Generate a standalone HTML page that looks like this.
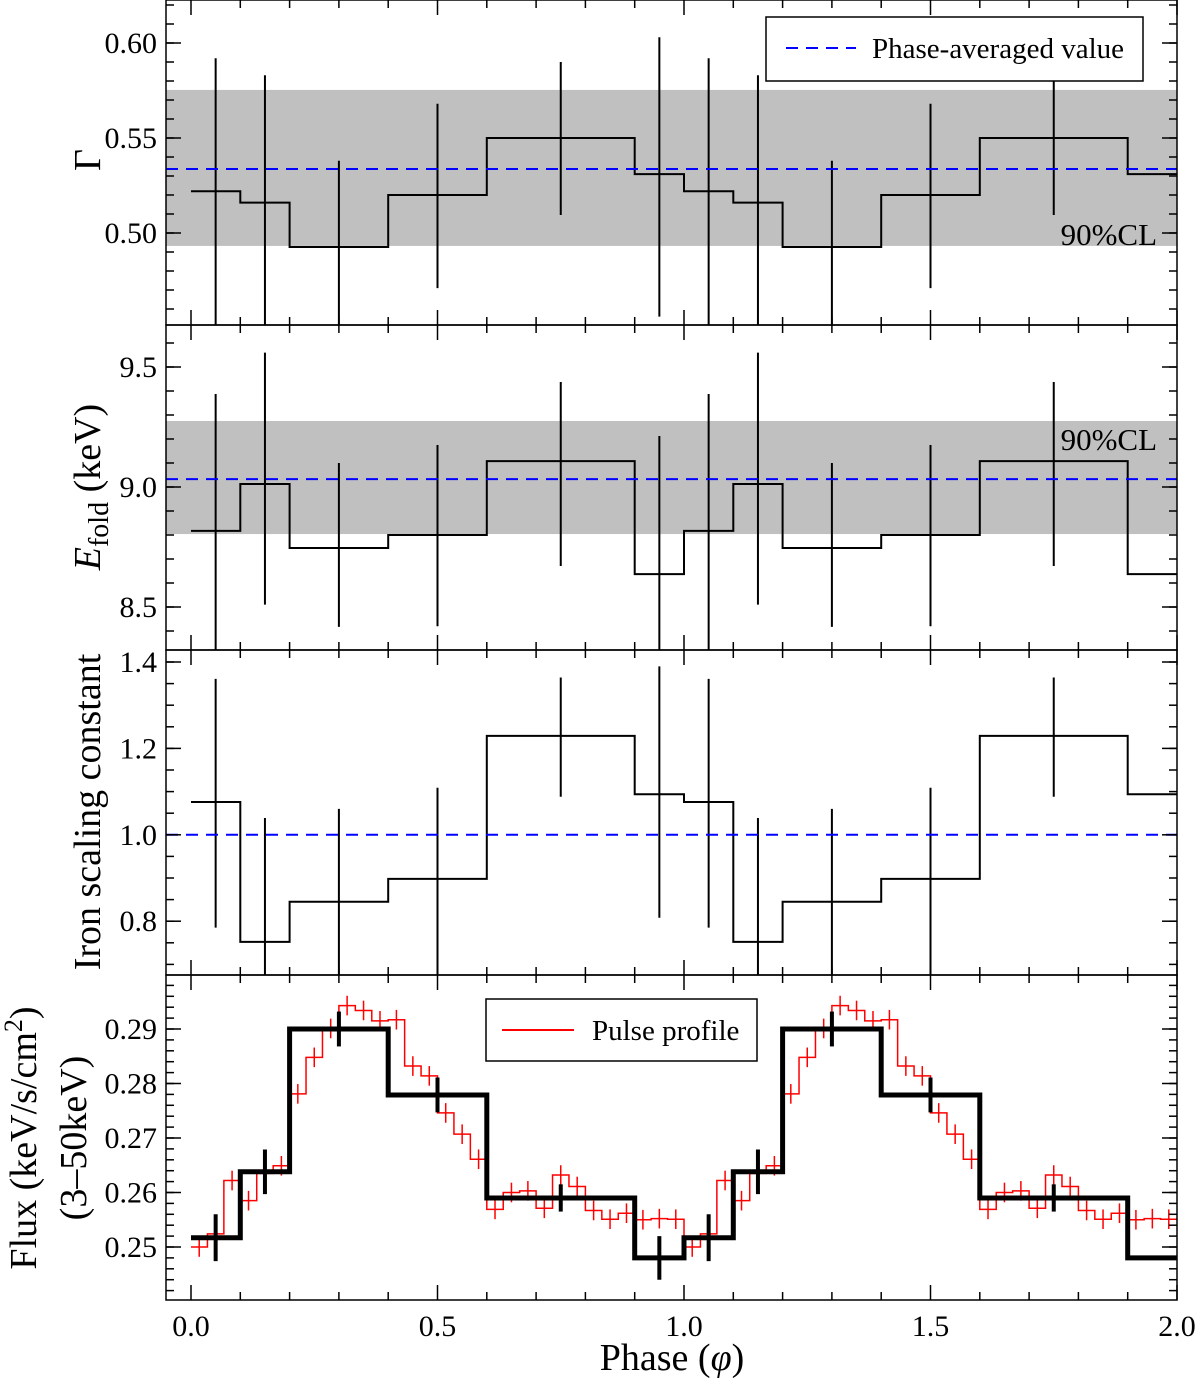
<!DOCTYPE html>
<html><head><meta charset="utf-8"><style>
body{margin:0;background:#fff}
svg{display:block;font-family:"Liberation Serif",serif}
text{font-family:"Liberation Serif",serif}
</style></head><body>
<svg id="chart" width="1200" height="1382" viewBox="0 0 1200 1382" xmlns="http://www.w3.org/2000/svg"></svg>
<script>
// ---- data ----
const binEdges = [0, 0.1, 0.2, 0.4, 0.6, 0.9, 1.0];
const binCenters = [0.05, 0.15, 0.3, 0.5, 0.75, 0.95];
const gammaVals = [0.522, 0.516, 0.4926, 0.520, 0.550, 0.531];
const gammaHi = [0.592, 0.583, 0.538, 0.568, 0.590, 0.603];
const gammaLo = [0.44, 0.44, 0.44, 0.471, 0.5095, 0.456];
const gammaAvg = 0.5337, gammaBand = [0.4932, 0.5753];
const efoldVals = [8.817, 9.0125, 8.746, 8.80, 9.108, 8.637];
const efoldHi = [9.3875, 9.56, 9.10, 9.175, 9.4375, 9.2125];
const efoldLo = [8.2, 8.51, 8.417, 8.42, 8.671, 8.25];
const efoldAvg = 9.033, efoldBand = [8.804, 9.275];
const ironVals = [1.076, 0.752, 0.845, 0.898, 1.229, 1.094];
const ironHi = [1.361, 1.039, 1.06, 1.109, 1.364, 1.39];
const ironLo = [0.785, 0.6, 0.6, 0.6, 1.088, 0.808];
const ironAvg = 1.0;
const fluxVals = [0.2517, 0.2638, 0.2900, 0.2779, 0.2590, 0.2480];
const fluxErr = [0.0043, 0.0041, 0.0032, 0.0032, 0.0025, 0.0040];
const pulseVals = [0.2500,0.2524,0.2622,0.2585,0.2635,0.2649,0.2781,0.2848,0.2901,0.2943,
  0.2934,0.2915,0.2917,0.2832,0.2814,0.2746,0.2707,0.2661,0.2569,0.2600,
  0.2603,0.2571,0.2632,0.2611,0.2567,0.2551,0.2562,0.2550,0.2552,0.2551];
const pulseErr = 0.0018;
const xTicks = ["0.0","0.5","1.0","1.5","2.0"];

// ---- layout ----
const svg = document.getElementById('chart');
const NS = 'http://www.w3.org/2000/svg';
const L = 166, R = 1177;
const X = p => 191 + p * 493;
function el(tag, attrs, parent, text) {
  const e = document.createElementNS(NS, tag);
  for (const k in attrs) e.setAttribute(k, attrs[k]);
  if (text !== undefined) e.textContent = text;
  (parent || svg).appendChild(e);
  return e;
}
const panels = [
  {name:'gamma', top:0, bot:325, v0:0.60, y0:43, scale:1900, ticks:[0.50,0.55,0.60], dec:2, minor:0.01, vmin:0.44, vmax:0.63},
  {name:'efold', top:325, bot:650, v0:9.5, y0:367, scale:240, ticks:[8.5,9.0,9.5], dec:1, minor:0.1, vmin:8.3, vmax:9.7},
  {name:'iron', top:650, bot:975, v0:1.4, y0:662, scale:432, ticks:[0.8,1.0,1.2,1.4], dec:1, minor:0.05, vmin:0.67, vmax:1.43},
  {name:'flux', top:975, bot:1300, v0:0.29, y0:1029, scale:5450, ticks:[0.25,0.26,0.27,0.28,0.29], dec:2, minor:0.002, vmin:0.240, vmax:0.300}
];
panels.forEach(p => { p.Y = v => p.y0 + (p.v0 - v) * p.scale; });

function clip(p) {
  const id = 'clip-' + p.name;
  const c = el('clipPath', {id});
  el('rect', {x:L, y:p.top, width:R-L, height:p.bot-p.top}, c);
  return 'url(#' + id + ')';
}
function stepPath(p, vals, edges, cycles) {
  let d = '';
  for (let c = 0; c < cycles; c++) {
    vals.forEach((v, i) => {
      const x1 = X(edges[i] + c), x2 = X(edges[i+1] + c), y = p.Y(v);
      d += (d ? 'L' : 'M') + x1 + ',' + y + 'L' + x2 + ',' + y;
    });
  }
  return d;
}
function axes(p) {
  const g = el('g', {});
  
  
  el('rect', {x:L, y:p.top, width:R-L, height:p.bot-p.top, fill:'none', stroke:'#000', 'stroke-width':1.5}, g);
  for (let i = 0; i <= 20; i++) {
    const x = X(i / 10), len = i % 5 === 0 ? 15 : 8;
    el('line', {x1:x, x2:x, y1:p.bot, y2:p.bot-len, stroke:'#000', 'stroke-width':1.5}, g);
    el('line', {x1:x, x2:x, y1:p.top, y2:p.top+len, stroke:'#000', 'stroke-width':1.5}, g);
  }
  const n0 = Math.ceil(p.vmin / p.minor - 1e-6), n1 = Math.floor(p.vmax / p.minor + 1e-6);
  for (let n = n0; n <= n1; n++) {
    const y = p.Y(n * p.minor);
    if (y <= p.top + 1 || y >= p.bot - 1) continue;
    el('line', {x1:L, x2:L+8, y1:y, y2:y, stroke:'#000', 'stroke-width':1.5}, g);
    el('line', {x1:R, x2:R-8, y1:y, y2:y, stroke:'#000', 'stroke-width':1.5}, g);
  }
  p.ticks.forEach(t => {
    const y = p.Y(t);
    el('line', {x1:L, x2:L+15, y1:y, y2:y, stroke:'#000', 'stroke-width':1.5}, g);
    el('line', {x1:R, x2:R-15, y1:y, y2:y, stroke:'#000', 'stroke-width':1.5}, g);
    const tl = el('text', {x:157, y:y+10, 'text-anchor':'end', 'font-size':30, 'font-family':'Liberation Serif, serif'}, g, t.toFixed(p.dec));
    
    
  });
}
function errBars(p, centers, vals, lo, hi, cp, width, color, name, cycles, maxX) {
  const g = el('g', {'clip-path':cp});
  
  
  for (let c = 0; c < cycles; c++) centers.forEach((x, i) => {
    if (maxX !== undefined && x + c > maxX) return;
    const e = el('line', {x1:X(x+c), x2:X(x+c), y1:p.Y(lo[i]), y2:p.Y(hi[i]), stroke:color, 'stroke-width':width}, g);
    
    
  });
}
function band(p, b, cp) {
  const r = el('rect', {x:L, y:p.Y(b[1]), width:R-L, height:p.Y(b[0])-p.Y(b[1]), fill:'#c0c0c0', 'clip-path':cp});
  
  
}
function avgLine(p, v) {
  const l = el('line', {x1:L, x2:R, y1:p.Y(v), y2:p.Y(v), stroke:'#0000ff', 'stroke-width':2, 'stroke-dasharray':'12,8'});
  
  
}
function steps(p, vals, cp, w, color, name) {
  const s = el('path', {d:stepPath(p, vals, binEdges, 2), fill:'none', stroke:color, 'stroke-width':w, 'clip-path':cp});
  
  
}

let p = panels[0], cp = clip(p);
band(p, gammaBand, cp);
steps(p, gammaVals, cp, 2, '#000', 'gamma-step');
errBars(p, binCenters, gammaVals, gammaLo, gammaHi, cp, 2, '#000', 'gamma-error-bars', 2, 1.9);
avgLine(p, gammaAvg);
axes(p);
p = panels[1]; cp = clip(p);
band(p, efoldBand, cp);
steps(p, efoldVals, cp, 2, '#000', 'efold-step');
errBars(p, binCenters, efoldVals, efoldLo, efoldHi, cp, 2, '#000', 'efold-error-bars', 2, 1.9);
avgLine(p, efoldAvg);
axes(p);
p = panels[2]; cp = clip(p);
steps(p, ironVals, cp, 2, '#000', 'iron-step');
errBars(p, binCenters, ironVals, ironLo, ironHi, cp, 2, '#000', 'iron-error-bars', 2, 1.9);
avgLine(p, ironAvg);
axes(p);
p = panels[3]; cp = clip(p);
(function(){
  const n = pulseVals.length, edges = [], cen = [];
  for (let i = 0; i <= n; i++) edges.push(i / n);
  for (let i = 0; i < n; i++) cen.push((i + 0.5) / n);
  const s = el('path', {d:stepPath(p, pulseVals, edges, 2), fill:'none', stroke:'#ff0000', 'stroke-width':1.5, 'clip-path':cp});
  
  
  const lo = pulseVals.map(v => v - pulseErr), hi = pulseVals.map(v => v + pulseErr);
  errBars(p, cen, pulseVals, lo, hi, cp, 1.5, '#ff0000', 'pulse-error-bars', 2);
})();
steps(p, fluxVals, cp, 5, '#000', 'flux-step');
errBars(p, binCenters, fluxVals, fluxVals.map((v,i)=>v-fluxErr[i]), fluxVals.map((v,i)=>v+fluxErr[i]), cp, 4, '#000', 'flux-error-bars', 2, 1.9);
axes(p);

xTicks.forEach((t, i) => {
  const tl = el('text', {x:X(i*0.5), y:1336, 'text-anchor':'middle', 'font-size':30, 'font-family':'Liberation Serif, serif'}, svg, t);
  
  
});
</script>
<svg style="position:absolute;left:0;top:0" width="1200" height="1382">
  <g font-family="Liberation Serif, serif" font-size="38" fill="#000">
    <text x="100" y="160" text-anchor="middle" transform="rotate(-90 100 160)">Γ</text>
    <text x="100" y="487" text-anchor="middle" transform="rotate(-90 100 487)"><tspan font-style="italic">E</tspan><tspan font-size="28" dy="8">fold</tspan><tspan dy="-8"> (keV)</tspan></text>
    <text x="100" y="812" text-anchor="middle" transform="rotate(-90 100 812)">Iron scaling constant</text>
    <text x="36" y="1138" text-anchor="middle" transform="rotate(-90 36 1138)">Flux (keV/s/cm<tspan font-size="26" dy="-14">2</tspan><tspan dy="14">)</tspan></text>
    <text x="86" y="1138" text-anchor="middle" transform="rotate(-90 86 1138)">(3–50keV)</text>
    <text x="672" y="1370" text-anchor="middle">Phase (<tspan font-style="italic">φ</tspan>)</text>
    <text x="1157" y="245" text-anchor="end" font-size="31">90%CL</text>
    <text x="1157" y="450" text-anchor="end" font-size="31">90%CL</text>
  </g>
  <g>
    <rect x="766" y="17" width="377" height="64" fill="#fff" stroke="#000" stroke-width="1.5"/>
    <line x1="786" x2="856" y1="48" y2="48" stroke="#0000ff" stroke-width="2" stroke-dasharray="12,8"/>
    <text x="872" y="58" font-family="Liberation Serif, serif" font-size="29">Phase-averaged value</text>
  </g>
  <g>
    <rect x="486" y="999" width="271" height="62" fill="#fff" stroke="#000" stroke-width="1.5"/>
    <line x1="502" x2="574" y1="1030" y2="1030" stroke="#ff0000" stroke-width="2"/>
    <text x="592" y="1040" font-family="Liberation Serif, serif" font-size="29">Pulse profile</text>
  </g>
</svg>
</body></html>
